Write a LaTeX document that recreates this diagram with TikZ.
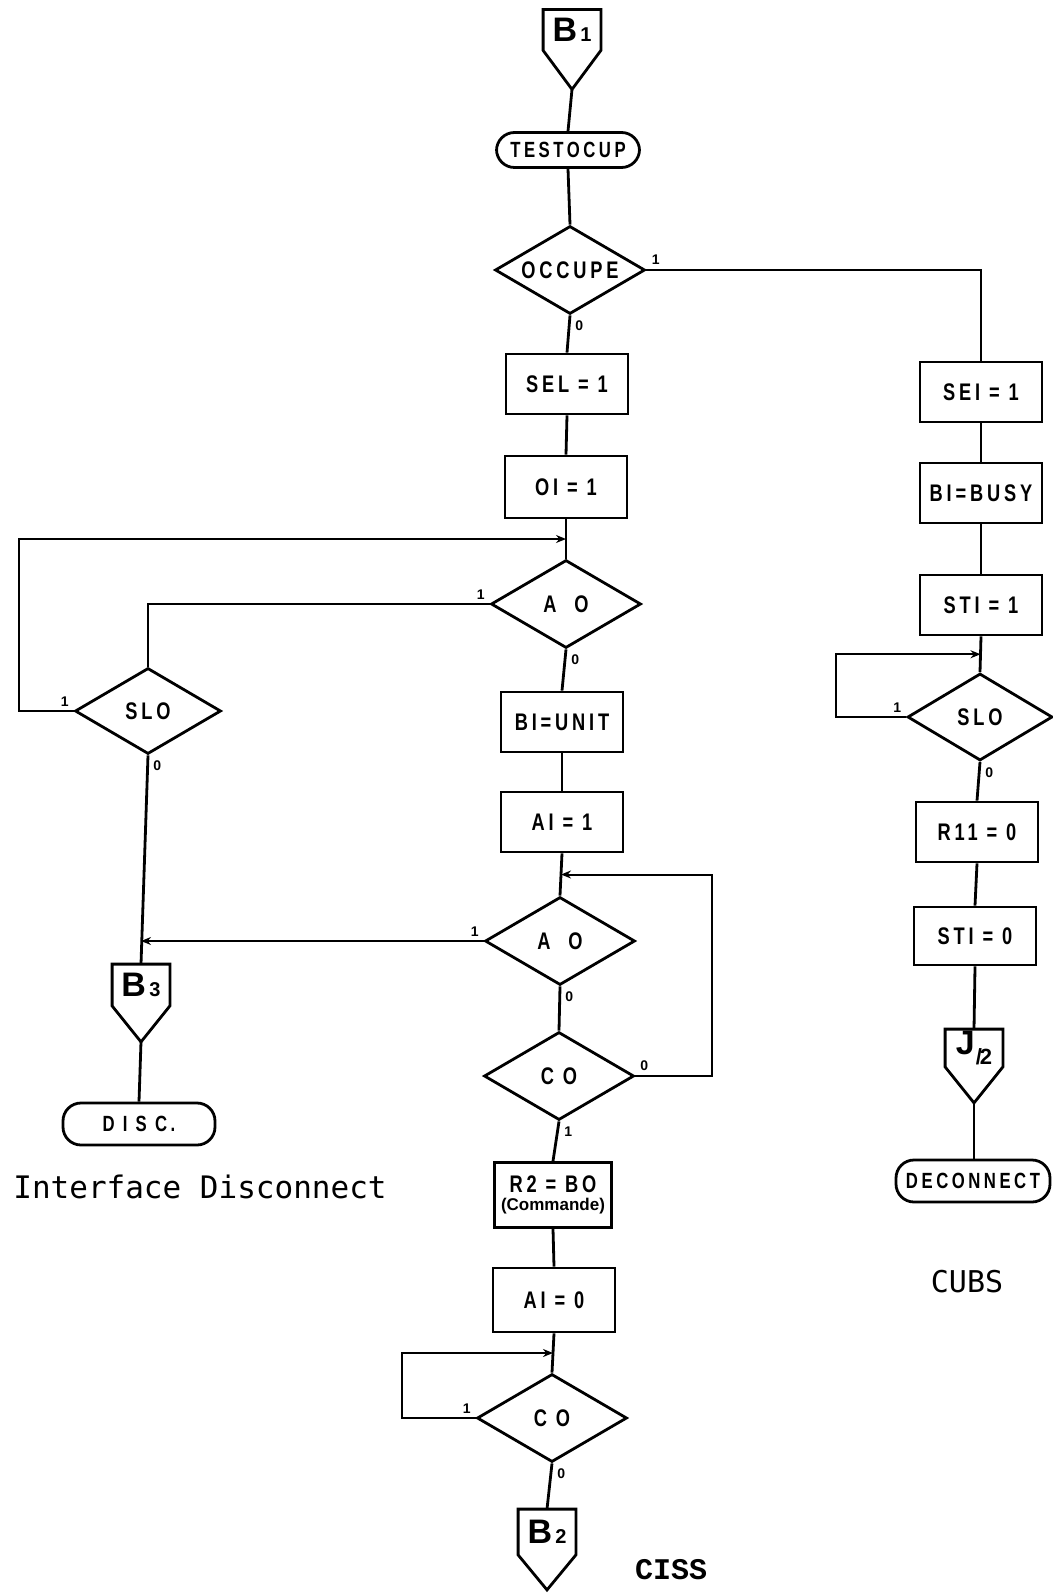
\documentclass[tikz,border=0pt]{standalone}
\usepackage{fontspec}
\usepackage{tikz}
\usetikzlibrary{calc, positioning, arrows.meta, shapes.geometric}
\newfontfamily\boxfont[FakeStretch=0.76, LetterSpace=16]{Liberation Sans}
\newfontfamily\plainsans{Liberation Sans}
\newfontfamily\notefont{DejaVu Sans Mono}
\newfontfamily\cissfont{Liberation Mono}

\begin{document}
\begin{tikzpicture}[x=0.5pt, y=-0.5pt, >={Stealth[length=5pt, width=4pt]},
  procbox/.style={draw, line width=1.4pt, minimum width=61pt, minimum height=30pt,
    inner sep=1pt, align=center, font=\boxfont\bfseries\fontsize{12}{12}\selectfont},
  decision/.style={diamond, aspect=2, draw, line width=1.4pt, minimum width=75pt,
    minimum height=44pt, inner sep=0pt, font=\boxfont\bfseries\fontsize{12}{12}\selectfont},
  terminal/.style={draw, line width=1.4pt, rounded corners=9pt, inner sep=2pt,
    font=\boxfont\bfseries\fontsize{11}{12}\selectfont},
  offpage/.style={minimum width=28.5pt, inner sep=0pt,
    font=\plainsans\bfseries\fontsize{17}{17}\selectfont},
  flow/.style={line width=1.4pt},
  backline/.style={line width=1pt, ->},
  lbl/.style={font=\plainsans\bfseries\fontsize{7}{8}\selectfont, inner sep=2pt}]
  \useasboundingbox (0,0) rectangle (1053,1593);

  % centre column (CISS)
  \node[offpage, minimum height=20pt] (b1) at (572,30) {B{\fontsize{10}{10}\selectfont\,1}};
  \node[terminal, minimum width=71.5pt, minimum height=17.5pt] (testocup) at (568,150) {TESTOCUP};
  \node[decision] (occupe) at (570,270) {OCCUPE};
  \node[procbox] (sel) at (567,384) {SEL = 1};
  \node[procbox, minimum height=31pt] (oi) at (566,487) {OI = 1};
  \node[decision] (ao1) at (566,604) {A~~O};
  \node[procbox] (biunit) at (562,722) {BI=UNIT};
  \node[procbox] (ai1) at (562,822) {AI = 1};
  \node[decision] (ao2) at (560,941) {A~~O};
  \node[decision] (co1) at (559,1076) {C~O};
  \node[procbox, minimum width=58.5pt, minimum height=32.5pt] (r2) at (553,1195)
    {R2 = BO\\[-3pt]{\plainsans\bfseries\fontsize{8.5}{9}\selectfont(Commande)}};
  \node[procbox, minimum height=32pt] (ai0) at (554,1300) {AI = 0};
  \node[decision] (co2) at (552,1418) {C~O};
  \node[offpage, minimum height=22.5pt] (b2) at (547,1532) {B{\fontsize{10}{10}\selectfont\,2}};

  % left branch
  \node[decision, minimum width=73pt, minimum height=43pt] (slo1) at (148,711) {SLO};
  \node[offpage, minimum height=20.5pt] (b3) at (141,985) {B{\fontsize{10}{10}\selectfont\,3}};
  \node[terminal, minimum width=76pt, minimum height=21pt] (disc) at (139,1124) {D I S C.};

  % right branch (CUBS)
  \node[procbox] (sei) at (981,392) {SEI = 1};
  \node[procbox] (bibusy) at (981,493) {BI=BUSY};
  \node[procbox] (sti1) at (981,605) {STI = 1};
  \node[decision, minimum width=72.5pt, minimum height=43.5pt] (slo2) at (980,717) {SLO};
  \node[procbox] (r11) at (977,832) {R11 = 0};
  \node[procbox, minimum height=29pt] (sti0) at (975,936) {STI = 0};
  \node[offpage, minimum height=18.5pt] (jhalf) at (974,1048)
    {J\kern0.5pt\raisebox{-5pt}{\fontsize{11}{11}\selectfont/\kern-1pt2}};
  \node[terminal, minimum width=77pt, minimum height=21pt] (deconnect) at (973,1181) {DECONNECT};

  % off-page connector outlines
  \foreach \n/\d in {b1/39, b2/35, b3/36, jhalf/36}
    \draw[line width=1.4pt] (\n.north west) -- (\n.north east) -- (\n.south east)
      -- ($(\n.south)+(0,\d)$) coordinate (\n-tip) -- (\n.south west) -- cycle;

  \coordinate (join1) at ($(oi.south)!0.5!(ao1.north)$);
  \coordinate (join2) at ($(ai1.south)!0.5!(ao2.north)$);
  \coordinate (join3) at ($(ai0.south)!0.5!(co2.north)$);
  \coordinate (join4) at ($(sti1.south)!0.5!(slo2.north)$);

  \draw[flow] (b1-tip) -- (testocup.north);
  \draw[flow] (testocup.south) -- (occupe.north);
  \draw[flow] (occupe.south) node[lbl, below right] (occ-no) {0} -- (sel.north);
  \draw[flow] (occupe.east) node[lbl, above right] (occ-yes) {1}
    -- (occupe.east -| sei.north) -- (sei.north);
  \draw[flow] (sel.south) -- (oi.north);
  \draw[flow] (oi.south) -- (ao1.north);
  \draw[flow] (ao1.south) node[lbl, below right] (ao1-no) {0} -- (biunit.north);
  \draw[line width=1pt] (ao1.west) node[lbl, above left] (ao1-yes) {1} -| (slo1.north);
  \draw[backline] (slo1.west) node[lbl, above left] (slo1-yes) {1} -- ++(-55,0) |- (join1);
  \draw[flow] (slo1.south) node[lbl, below right] (slo1-no) {0} -- (b3.north);
  \draw[flow] (b3-tip) -- (disc.north);
  \draw[flow] (biunit.south) -- (ai1.north);
  \draw[flow] (ai1.south) -- (ao2.north);
  \draw[backline] (ao2.west) node[lbl, above left] (ao2-yes) {1} -- (ao2.west -| b3.north);
  \draw[flow] (ao2.south) node[lbl, below right] (ao2-no) {0} -- (co1.north);
  \draw[backline] (co1.east) node[lbl, above right] (co1-no) {0} -- ++(77,0) |- (join2);
  \draw[flow] (co1.south) node[lbl, below right] (co1-yes) {1} -- (r2.north);
  \draw[flow] (r2.south) -- (ai0.north);
  \draw[flow] (ai0.south) -- (co2.north);
  \draw[backline] (co2.west) node[lbl, above left] (co2-yes) {1} -- ++(-74,0) |- (join3);
  \draw[flow] (co2.south) node[lbl, below right] (co2-no) {0} -- (b2.north);

  \draw[flow] (sei.south) -- (bibusy.north);
  \draw[flow] (bibusy.south) -- (sti1.north);
  \draw[flow] (sti1.south) -- (slo2.north);
  \draw[backline] (slo2.west) node[lbl, above left] (slo2-yes) {1} -- ++(-70,0) |- (join4);
  \draw[flow] (slo2.south) node[lbl, below right] (slo2-no) {0} -- (r11.north);
  \draw[flow] (r11.south) -- (sti0.north);
  \draw[flow] (sti0.south) -- (jhalf.north);
  \draw[flow] (jhalf-tip) -- (jhalf-tip |- deconnect.north);

  % captions
  \node[font=\notefont\fontsize{15.5}{16}\selectfont] (cap-disc) at (200,1187) {Interface Disconnect};
  \node[font=\notefont\fontsize{15}{16}\selectfont] (cap-cubs) at (967,1282) {CUBS};
  \node[font=\cissfont\bfseries\fontsize{15}{16}\selectfont] (cap-ciss) at (671,1570) {CISS};
\end{tikzpicture}
\end{document}
